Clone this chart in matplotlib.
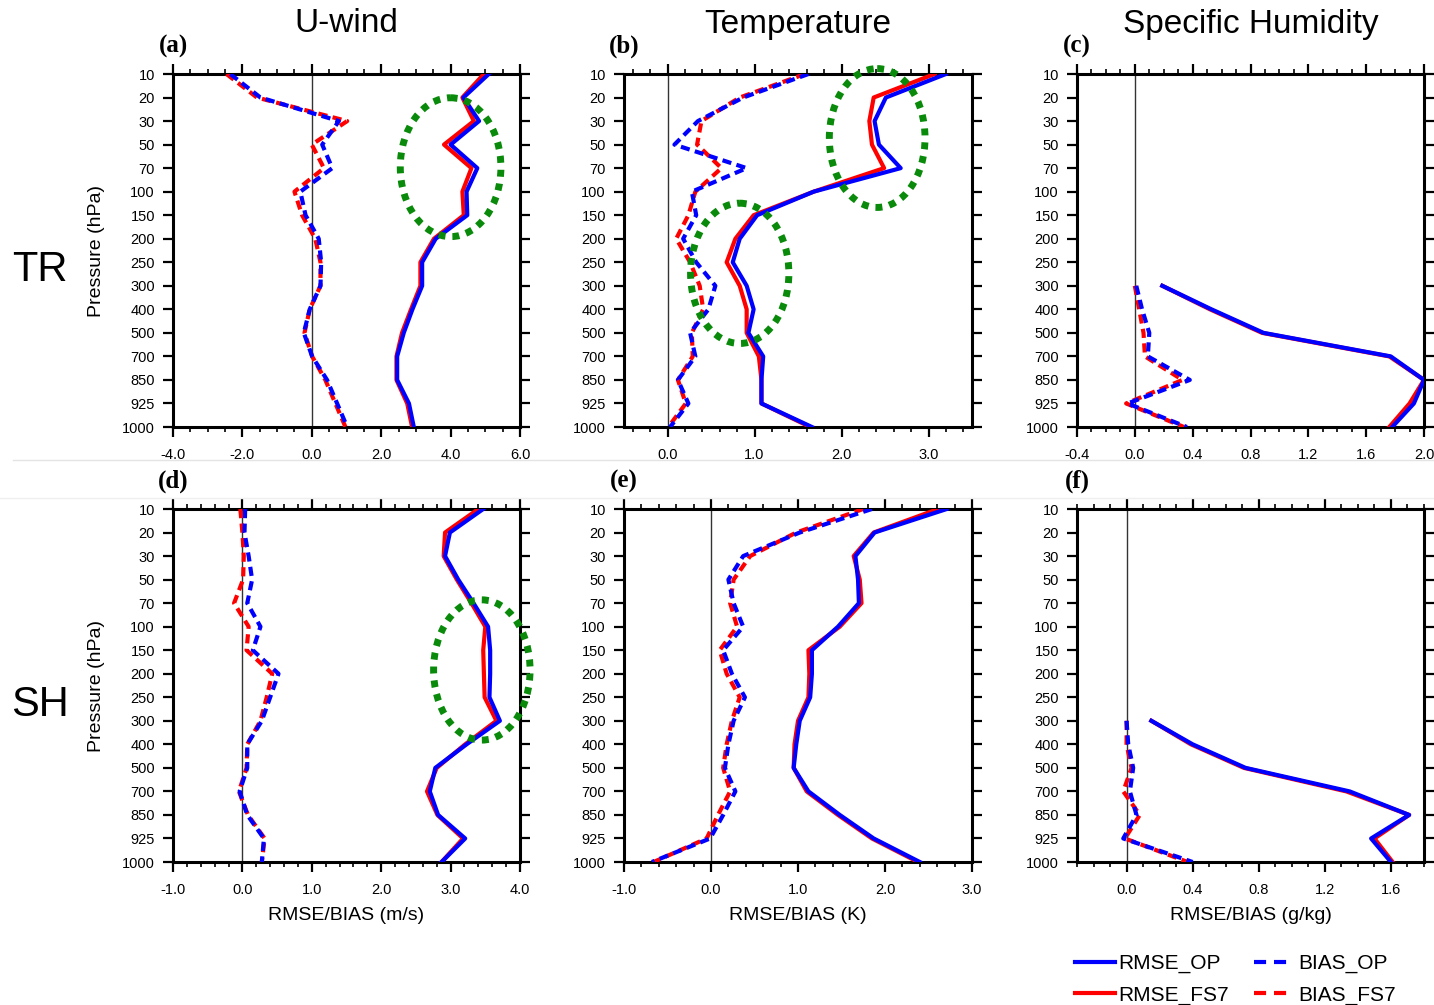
import numpy as np
import matplotlib
matplotlib.use("Agg")
import matplotlib.pyplot as plt
from matplotlib.patches import Ellipse
from matplotlib.lines import Line2D
from matplotlib.ticker import MultipleLocator, FormatStrFormatter

plt.rcParams["font.family"] = ["Liberation Sans", "DejaVu Sans"]

levels = ["10", "20", "30", "50", "70", "100", "150", "200", "250",
          "300", "400", "500", "700", "850", "925", "1000"]

# (a) TR, U-wind
a_rmse_op = [5.10, 4.37, 4.82, 4.00, 4.77, 4.46, 4.48, 3.57, 3.18, 3.18, 2.90, 2.65, 2.46, 2.46, 2.80, 2.94]
a_rmse_fs7 = [4.96, 4.34, 4.67, 3.81, 4.60, 4.34, 4.38, 3.52, 3.13, 3.13, 2.86, 2.60, 2.44, 2.44, 2.75, 2.89]
a_bias_op = [-2.35, -1.48, 0.78, 0.30, 0.59, -0.33, -0.18, 0.20, 0.27, 0.25, -0.06, -0.23, 0.01, 0.44, 0.73, 1.02]
a_bias_fs7 = [-2.46, -1.58, 1.02, 0.00, 0.35, -0.50, -0.28, 0.10, 0.25, 0.25, -0.06, -0.21, 0.01, 0.39, 0.68, 0.97]

# (b) TR, Temperature
b_rmse_op = [3.20, 2.51, 2.38, 2.43, 2.68, 1.68, 1.03, 0.83, 0.75, 0.91, 0.99, 0.93, 1.10, 1.08, 1.08, 1.66]
b_rmse_fs7 = [3.07, 2.37, 2.32, 2.35, 2.49, 1.68, 0.99, 0.78, 0.68, 0.83, 0.91, 0.91, 1.05, 1.08, 1.08, 1.64]
b_bias_op = [1.62, 0.87, 0.35, 0.08, 0.91, 0.28, 0.33, 0.18, 0.33, 0.55, 0.47, 0.26, 0.32, 0.12, 0.24, 0.03]
b_bias_fs7 = [1.58, 0.83, 0.39, 0.34, 0.62, 0.32, 0.24, 0.10, 0.26, 0.37, 0.41, 0.28, 0.29, 0.12, 0.21, 0.01]

# (c) TR, Specific humidity (no data above 300 hPa)
c_rmse_op = [None] * 9 + [0.19, 0.53, 0.89, 1.77, 2.00, 1.93, 1.78]
c_rmse_fs7 = [None] * 9 + [0.19, 0.52, 0.88, 1.76, 2.00, 1.90, 1.76]
c_bias_op = [None] * 9 + [0.01, 0.05, 0.10, 0.09, 0.38, -0.05, 0.36]
c_bias_fs7 = [None] * 9 + [0.00, 0.03, 0.06, 0.07, 0.33, -0.06, 0.34]

# (d) SH, U-wind
d_rmse_op = [3.47, 2.99, 2.92, 3.11, 3.33, 3.54, 3.57, 3.57, 3.56, 3.71, 3.23, 2.78, 2.70, 2.82, 3.21, 2.87]
d_rmse_fs7 = [3.40, 2.92, 2.90, 3.09, 3.30, 3.50, 3.47, 3.48, 3.49, 3.66, 3.21, 2.80, 2.66, 2.81, 3.18, 2.87]
d_bias_op = [0.04, 0.03, 0.09, 0.14, 0.07, 0.26, 0.15, 0.52, 0.40, 0.28, 0.07, 0.07, -0.04, 0.07, 0.31, 0.28]
d_bias_fs7 = [-0.03, 0.00, 0.02, 0.01, -0.12, 0.09, 0.06, 0.43, 0.35, 0.26, 0.07, 0.06, -0.05, 0.08, 0.32, 0.28]

# (e) SH, Temperature
e_rmse_op = [2.71, 1.88, 1.66, 1.69, 1.70, 1.46, 1.16, 1.16, 1.14, 1.02, 0.98, 0.95, 1.12, 1.48, 1.87, 2.40]
e_rmse_fs7 = [2.61, 1.87, 1.64, 1.71, 1.73, 1.48, 1.12, 1.13, 1.12, 1.00, 0.96, 0.95, 1.10, 1.46, 1.85, 2.38]
e_bias_op = [1.85, 1.02, 0.37, 0.20, 0.26, 0.37, 0.14, 0.24, 0.39, 0.26, 0.20, 0.16, 0.28, 0.14, -0.01, -0.68]
e_bias_fs7 = [1.75, 0.98, 0.45, 0.26, 0.22, 0.30, 0.10, 0.18, 0.33, 0.24, 0.18, 0.14, 0.22, 0.08, -0.05, -0.66]

# (f) SH, Specific humidity
f_rmse_op = [None] * 9 + [0.15, 0.40, 0.72, 1.35, 1.71, 1.48, 1.60]
f_rmse_fs7 = [None] * 9 + [0.15, 0.39, 0.71, 1.33, 1.71, 1.50, 1.61]
f_bias_op = [None] * 9 + [0.00, 0.01, 0.04, 0.02, 0.06, -0.02, 0.40]
f_bias_fs7 = [None] * 9 + [0.00, 0.00, 0.03, -0.02, 0.08, -0.01, 0.37]

# highlighted regions: (centre value, centre level index, width, height in levels)
a_marks = [(4.0, 3.96, 2.9, 5.9)]
b_marks = [(2.41, 2.72, 1.10, 5.9), (0.83, 8.47, 1.13, 5.96)]
d_marks = [(3.45, 6.84, 1.39, 5.96)]

W, H = 1434, 1005
fig = plt.figure(figsize=(W / 100, H / 100), dpi=100)


def px_box(l, t, r, b):
    return [l / W, 1 - b / H, (r - l) / W, (b - t) / H]


col_x = [(173, 520), (624, 972), (1077, 1424)]
row_y = [(74, 427), (509, 862)]

panels = [
    ("(a)", a_rmse_op, a_rmse_fs7, a_bias_op, a_bias_fs7, (-4, 6), 2.0, 0.5, a_marks),
    ("(b)", b_rmse_op, b_rmse_fs7, b_bias_op, b_bias_fs7, (-0.5, 3.5), 1.0, 0.2, b_marks),
    ("(c)", c_rmse_op, c_rmse_fs7, c_bias_op, c_bias_fs7, (-0.4, 2.0), 0.4, 0.1, []),
    ("(d)", d_rmse_op, d_rmse_fs7, d_bias_op, d_bias_fs7, (-1, 4), 1.0, 0.2, d_marks),
    ("(e)", e_rmse_op, e_rmse_fs7, e_bias_op, e_bias_fs7, (-1, 3), 1.0, 0.2, []),
    ("(f)", f_rmse_op, f_rmse_fs7, f_bias_op, f_bias_fs7, (-0.3, 1.8), 0.4, 0.1, []),
]

y = np.arange(len(levels))
dash = (0, (2.2, 1.3))

for i, (tag, r_op, r_fs, b_op, b_fs, xlim, major, minor, marks) in enumerate(panels):
    row, col = divmod(i, 3)
    l, r = col_x[col]
    t, b = row_y[row]
    ax = fig.add_axes(px_box(l, t, r, b))

    ax.axvline(0, color="#333333", lw=1.0, zorder=1)
    ax.plot(np.array(r_fs, dtype=float), y, color="red", lw=3, zorder=3)
    ax.plot(np.array(b_fs, dtype=float), y, color="red", lw=3, ls=dash, zorder=3)
    ax.plot(np.array(r_op, dtype=float), y, color="blue", lw=3, zorder=4)
    ax.plot(np.array(b_op, dtype=float), y, color="blue", lw=3, ls=dash, zorder=4)

    for cx, cy, ew, eh in marks:
        ax.add_patch(Ellipse((cx, cy), ew, eh, fill=False, edgecolor="#0a8a0a",
                             lw=5, ls=(0, (1, 1)), capstyle="butt",
                             clip_on=False, zorder=5))

    ax.set_xlim(*xlim)
    ax.set_ylim(len(levels) - 1, 0)
    ax.set_yticks(y)
    ax.set_yticklabels(levels)
    ax.xaxis.set_major_locator(MultipleLocator(major))
    ax.xaxis.set_minor_locator(MultipleLocator(minor))
    ax.xaxis.set_major_formatter(FormatStrFormatter("%.1f"))
    ax.tick_params(which="both", direction="out", top=True, right=True,
                   labeltop=False, labelright=False)
    ax.tick_params(which="major", length=7, width=1.6, labelsize=10.5, pad=6)
    ax.tick_params(axis="x", which="major", pad=8)
    ax.tick_params(which="minor", length=3.5, width=1.2)
    ax.tick_params(axis="y", which="minor", left=False, right=False)
    for s in ax.spines.values():
        s.set_linewidth(2.2)

    fig.text(l / W, 1 - (t - 28) / H, tag, ha="center", va="center",
             fontsize=18, fontweight="bold", family="Liberation Serif")
    if col == 0:
        ax.set_ylabel("Pressure (hPa)", fontsize=14, labelpad=12)

for col, name in enumerate(["U-wind", "Temperature", "Specific Humidity"]):
    l, r = col_x[col]
    fig.text((l + r) / 2 / W, 1 - 24 / H, name, ha="center", va="center", fontsize=24)

for col, name in enumerate(["RMSE/BIAS (m/s)", "RMSE/BIAS (K)", "RMSE/BIAS (g/kg)"]):
    l, r = col_x[col]
    fig.text((l + r) / 2 / W, 1 - 915 / H, name, ha="center", va="center", fontsize=14)

fig.text(40 / W, 1 - 270 / H, "TR", ha="center", va="center", fontsize=30)
fig.text(40 / W, 1 - 705 / H, "SH", ha="center", va="center", fontsize=30)

fig.add_artist(Line2D([13 / W, 1], [1 - 460 / H] * 2, color="#e4e4e4", lw=1))
fig.add_artist(Line2D([0, 1], [1 - 498 / H] * 2, color="#efefef", lw=1))

handles = [
    Line2D([], [], color="blue", lw=3),
    Line2D([], [], color="red", lw=3),
    Line2D([], [], color="blue", lw=3, ls=(0, (2.9, 1.9))),
    Line2D([], [], color="red", lw=3, ls=(0, (2.9, 1.9))),
]
labels = ["RMSE_OP", "RMSE_FS7", "BIAS_OP", "BIAS_FS7"]
fig.legend(handles, labels, loc="upper left", bbox_to_anchor=(1075 / W, 1 - 954 / H),
           ncol=2, frameon=False, fontsize=15, handlelength=1.9, handletextpad=0.2,
           columnspacing=1.2, labelspacing=0.6, borderaxespad=0, borderpad=0)

fig.savefig("out.png", dpi=100)
